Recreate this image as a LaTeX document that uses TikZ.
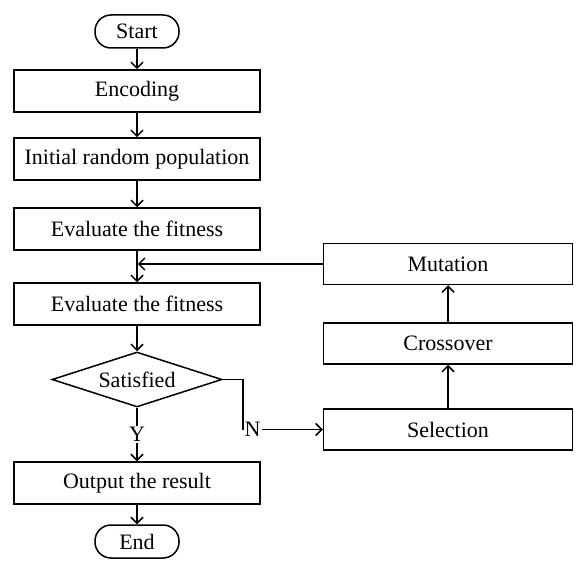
\documentclass[tikz,border=0pt]{standalone}
\usepackage{fontspec}
\setmainfont{Liberation Serif}
\usetikzlibrary{shapes.geometric,arrows.meta}
\begin{document}
\begin{tikzpicture}[x=1pt,y=-1pt,
  every node/.style={font=\fontsize{22}{25}\selectfont},
  box/.style={draw,line width=1.5pt,minimum width=246pt,minimum height=42pt,inner sep=0pt},
  rbox/.style={draw,line width=1.5pt,minimum width=249pt,minimum height=41pt,inner sep=0pt},
  term/.style={draw,line width=1.5pt,rounded corners=16pt,minimum width=84pt,minimum height=33pt,inner sep=0pt},
  dec/.style={draw,line width=1.5pt,diamond,aspect=3.1,minimum width=170pt,minimum height=55pt,inner sep=0pt},
  conn/.style={line width=1.5pt,-{Straight Barb[length=6pt,width=12pt,line width=1.5pt]}},
  lab/.style={fill=white,inner sep=1pt}]
\useasboundingbox (0,0) rectangle (584,580);
\node[term] (start) at (137,31.5) {Start};
\node[box] (enc) at (137,91) {Encoding};
\node[box] (init) at (137,159) {Initial random population};
\node[box] (ev1) at (137,229) {Evaluate the fitness};
\node[box] (ev2) at (137,304) {Evaluate the fitness};
\node[dec] (sat) at (137,379.5) {Satisfied};
\node[box] (out) at (137,483) {Output the result};
\node[term] (end) at (137,541.5) {End};
\node[rbox] (mut) at (448,264) {Mutation};
\node[rbox] (cro) at (448,343.5) {Crossover};
\node[rbox] (sel) at (448,429.5) {Selection};
\coordinate (c1) at (243,379.5);
\coordinate (c2) at (243,429.5);
\draw[conn] (start) -- (enc);
\draw[conn] (enc) -- (init);
\draw[conn] (init) -- (ev1);
\draw[conn] (ev1) -- (ev2);
\draw[conn] (mut.west) -- ([xshift=0.8pt]mut.west -| ev1.south);
\draw[conn] (ev2) -- (sat);
\draw[conn] (sat.south) -- node[lab,pos=0.5]{Y} (out.north);
\draw[conn] (out) -- (end);
\draw[conn] (sat.east) -- (c1) -- (c2) -- node[lab,pos=0.12]{N} (sel.west);
\draw[conn] (sel) -- (cro);
\draw[conn] (cro) -- (mut);
\end{tikzpicture}
\end{document}
